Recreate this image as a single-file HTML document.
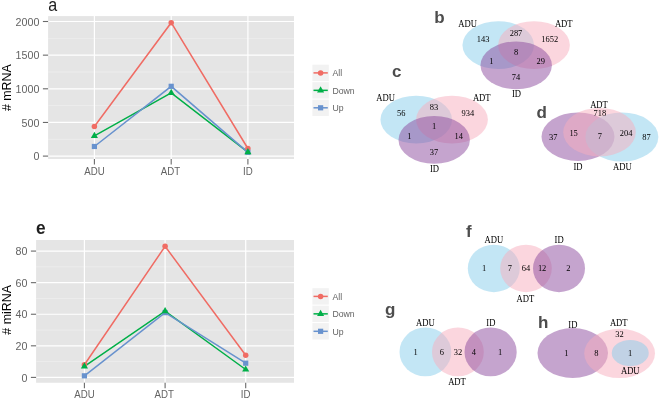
<!DOCTYPE html>
<html><head><meta charset="utf-8"><style>
html,body{margin:0;padding:0;background:#fff;}
svg{display:block;font-family:"Liberation Sans", sans-serif;will-change:transform;}
</style></head><body>
<svg width="660" height="400" viewBox="0 0 660 400">
<rect width="660" height="400" fill="#fff"/>
<rect x="48.1" y="16.1" width="245.9" height="142.9" fill="#e5e5e5"/>
<line x1="48.1" x2="294" y1="139.28" y2="139.28" stroke="#f2f2f2" stroke-width="0.6"/>
<line x1="48.1" x2="294" y1="105.62" y2="105.62" stroke="#f2f2f2" stroke-width="0.6"/>
<line x1="48.1" x2="294" y1="71.97" y2="71.97" stroke="#f2f2f2" stroke-width="0.6"/>
<line x1="48.1" x2="294" y1="38.33" y2="38.33" stroke="#f2f2f2" stroke-width="0.6"/>
<line x1="48.1" x2="294" y1="156.10" y2="156.10" stroke="#ffffff" stroke-width="1.2"/>
<line x1="48.1" x2="294" y1="122.45" y2="122.45" stroke="#ffffff" stroke-width="1.2"/>
<line x1="48.1" x2="294" y1="88.80" y2="88.80" stroke="#ffffff" stroke-width="1.2"/>
<line x1="48.1" x2="294" y1="55.15" y2="55.15" stroke="#ffffff" stroke-width="1.2"/>
<line x1="48.1" x2="294" y1="21.50" y2="21.50" stroke="#ffffff" stroke-width="1.2"/>
<line x1="94.4" x2="94.4" y1="16.1" y2="159" stroke="#ffffff" stroke-width="1.2"/>
<line x1="171.2" x2="171.2" y1="16.1" y2="159" stroke="#ffffff" stroke-width="1.2"/>
<line x1="247.9" x2="247.9" y1="16.1" y2="159" stroke="#ffffff" stroke-width="1.2"/>
<line x1="42.9" x2="48.1" y1="156.10" y2="156.10" stroke="#6a6a6a" stroke-width="1.1"/>
<text x="39.4" y="160.20" font-size="10.7" fill="#636363" text-anchor="end">0</text>
<line x1="42.9" x2="48.1" y1="122.45" y2="122.45" stroke="#6a6a6a" stroke-width="1.1"/>
<text x="39.4" y="126.55" font-size="10.7" fill="#636363" text-anchor="end">500</text>
<line x1="42.9" x2="48.1" y1="88.80" y2="88.80" stroke="#6a6a6a" stroke-width="1.1"/>
<text x="39.4" y="92.90" font-size="10.7" fill="#636363" text-anchor="end">1000</text>
<line x1="42.9" x2="48.1" y1="55.15" y2="55.15" stroke="#6a6a6a" stroke-width="1.1"/>
<text x="39.4" y="59.25" font-size="10.7" fill="#636363" text-anchor="end">1500</text>
<line x1="42.9" x2="48.1" y1="21.50" y2="21.50" stroke="#6a6a6a" stroke-width="1.1"/>
<text x="39.4" y="25.60" font-size="10.7" fill="#636363" text-anchor="end">2000</text>
<line x1="94.4" x2="94.4" y1="159" y2="164.4" stroke="#6a6a6a" stroke-width="1.1"/>
<text transform="translate(94.4,174.6) scale(0.97,1)" font-size="10" fill="#636363" text-anchor="middle">ADU</text>
<line x1="171.2" x2="171.2" y1="159" y2="164.4" stroke="#6a6a6a" stroke-width="1.1"/>
<text transform="translate(170.39999999999998,174.6) scale(0.97,1)" font-size="10" fill="#636363" text-anchor="middle">ADT</text>
<line x1="247.9" x2="247.9" y1="159" y2="164.4" stroke="#6a6a6a" stroke-width="1.1"/>
<text transform="translate(247.9,174.6) scale(0.97,1)" font-size="10" fill="#636363" text-anchor="middle">ID</text>
<text transform="translate(48.2,10.5) scale(0.87,1)" font-size="18.5" font-weight="normal" fill="#1e1e1e">a</text>
<text transform="translate(10.9,87.7) rotate(-90)" font-size="12.4" fill="#000" text-anchor="middle"># mRNA</text>
<polyline points="94.4,126.49 171.2,22.71 247.9,148.50" fill="none" stroke="#F06C64" stroke-width="1.5"/>
<polyline points="94.4,135.91 171.2,92.84 247.9,152.13" fill="none" stroke="#00AF48" stroke-width="1.5"/>
<polyline points="94.4,146.48 171.2,86.31 247.9,152.33" fill="none" stroke="#6892CE" stroke-width="1.5"/>
<circle cx="94.4" cy="126.49" r="2.75" fill="#F06C64"/>
<circle cx="171.2" cy="22.71" r="2.75" fill="#F06C64"/>
<circle cx="247.9" cy="148.50" r="2.75" fill="#F06C64"/>
<rect x="91.80" y="143.88" width="5.2" height="5.2" fill="#6892CE"/>
<rect x="168.60" y="83.71" width="5.2" height="5.2" fill="#6892CE"/>
<rect x="245.30" y="149.73" width="5.2" height="5.2" fill="#6892CE"/>
<polygon points="94.40,131.81 97.95,137.96 90.85,137.96" fill="#00AF48"/>
<polygon points="171.20,88.74 174.75,94.89 167.65,94.89" fill="#00AF48"/>
<polygon points="247.90,148.03 251.45,154.18 244.35,154.18" fill="#00AF48"/>
<rect x="312.4" y="64.70" width="16.4" height="16.4" fill="#f2f2f2"/>
<line x1="313.5" x2="327.8" y1="72.90" y2="72.90" stroke="#F06C64" stroke-width="1.5"/>
<circle cx="320.6" cy="72.90" r="2.75" fill="#F06C64"/>
<text transform="translate(332.4,76.40) scale(0.89,1)" font-size="9.8" fill="#636363">All</text>
<rect x="312.4" y="82.15" width="16.4" height="16.4" fill="#f2f2f2"/>
<line x1="313.5" x2="327.8" y1="90.35" y2="90.35" stroke="#00AF48" stroke-width="1.5"/>
<polygon points="320.60,86.25 324.15,92.40 317.05,92.40" fill="#00AF48"/>
<text transform="translate(332.4,93.85) scale(0.89,1)" font-size="9.8" fill="#636363">Down</text>
<rect x="312.4" y="99.60" width="16.4" height="16.4" fill="#f2f2f2"/>
<line x1="313.5" x2="327.8" y1="107.80" y2="107.80" stroke="#6892CE" stroke-width="1.5"/>
<rect x="318.00" y="105.20" width="5.2" height="5.2" fill="#6892CE"/>
<text transform="translate(332.4,111.30) scale(0.89,1)" font-size="9.8" fill="#636363">Up</text>
<rect x="36.1" y="240" width="257.9" height="142.75" fill="#e5e5e5"/>
<line x1="36.1" x2="294" y1="361.61" y2="361.61" stroke="#f2f2f2" stroke-width="0.6"/>
<line x1="36.1" x2="294" y1="330.03" y2="330.03" stroke="#f2f2f2" stroke-width="0.6"/>
<line x1="36.1" x2="294" y1="298.45" y2="298.45" stroke="#f2f2f2" stroke-width="0.6"/>
<line x1="36.1" x2="294" y1="266.87" y2="266.87" stroke="#f2f2f2" stroke-width="0.6"/>
<line x1="36.1" x2="294" y1="377.40" y2="377.40" stroke="#ffffff" stroke-width="1.2"/>
<line x1="36.1" x2="294" y1="345.82" y2="345.82" stroke="#ffffff" stroke-width="1.2"/>
<line x1="36.1" x2="294" y1="314.24" y2="314.24" stroke="#ffffff" stroke-width="1.2"/>
<line x1="36.1" x2="294" y1="282.66" y2="282.66" stroke="#ffffff" stroke-width="1.2"/>
<line x1="36.1" x2="294" y1="251.08" y2="251.08" stroke="#ffffff" stroke-width="1.2"/>
<line x1="84.4" x2="84.4" y1="240" y2="382.75" stroke="#ffffff" stroke-width="1.2"/>
<line x1="165.1" x2="165.1" y1="240" y2="382.75" stroke="#ffffff" stroke-width="1.2"/>
<line x1="245.7" x2="245.7" y1="240" y2="382.75" stroke="#ffffff" stroke-width="1.2"/>
<line x1="30.900000000000002" x2="36.1" y1="377.40" y2="377.40" stroke="#6a6a6a" stroke-width="1.1"/>
<text x="27.4" y="381.50" font-size="10.7" fill="#636363" text-anchor="end">0</text>
<line x1="30.900000000000002" x2="36.1" y1="345.82" y2="345.82" stroke="#6a6a6a" stroke-width="1.1"/>
<text x="27.4" y="349.92" font-size="10.7" fill="#636363" text-anchor="end">20</text>
<line x1="30.900000000000002" x2="36.1" y1="314.24" y2="314.24" stroke="#6a6a6a" stroke-width="1.1"/>
<text x="27.4" y="318.34" font-size="10.7" fill="#636363" text-anchor="end">40</text>
<line x1="30.900000000000002" x2="36.1" y1="282.66" y2="282.66" stroke="#6a6a6a" stroke-width="1.1"/>
<text x="27.4" y="286.76" font-size="10.7" fill="#636363" text-anchor="end">60</text>
<line x1="30.900000000000002" x2="36.1" y1="251.08" y2="251.08" stroke="#6a6a6a" stroke-width="1.1"/>
<text x="27.4" y="255.18" font-size="10.7" fill="#636363" text-anchor="end">80</text>
<line x1="84.4" x2="84.4" y1="382.75" y2="388.15" stroke="#6a6a6a" stroke-width="1.1"/>
<text transform="translate(84.4,398) scale(0.97,1)" font-size="10" fill="#636363" text-anchor="middle">ADU</text>
<line x1="165.1" x2="165.1" y1="382.75" y2="388.15" stroke="#6a6a6a" stroke-width="1.1"/>
<text transform="translate(164.29999999999998,398) scale(0.97,1)" font-size="10" fill="#636363" text-anchor="middle">ADT</text>
<line x1="245.7" x2="245.7" y1="382.75" y2="388.15" stroke="#6a6a6a" stroke-width="1.1"/>
<text transform="translate(245.7,398) scale(0.97,1)" font-size="10" fill="#636363" text-anchor="middle">ID</text>
<text transform="translate(36.0,233.8) scale(0.95,1)" font-size="18.2" font-weight="bold" fill="#1e1e1e">e</text>
<text transform="translate(10.9,309.85) rotate(-90)" font-size="12.4" fill="#000" text-anchor="middle"># miRNA</text>
<polyline points="84.4,364.77 165.1,246.34 245.7,355.29" fill="none" stroke="#F06C64" stroke-width="1.5"/>
<polyline points="84.4,366.35 165.1,311.08 245.7,369.50" fill="none" stroke="#00AF48" stroke-width="1.5"/>
<polyline points="84.4,375.82 165.1,312.66 245.7,363.19" fill="none" stroke="#6892CE" stroke-width="1.5"/>
<circle cx="84.4" cy="364.77" r="2.75" fill="#F06C64"/>
<circle cx="165.1" cy="246.34" r="2.75" fill="#F06C64"/>
<circle cx="245.7" cy="355.29" r="2.75" fill="#F06C64"/>
<rect x="81.80" y="373.22" width="5.2" height="5.2" fill="#6892CE"/>
<rect x="162.50" y="310.06" width="5.2" height="5.2" fill="#6892CE"/>
<rect x="243.10" y="360.59" width="5.2" height="5.2" fill="#6892CE"/>
<polygon points="84.40,362.25 87.95,368.40 80.85,368.40" fill="#00AF48"/>
<polygon points="165.10,306.98 168.65,313.13 161.55,313.13" fill="#00AF48"/>
<polygon points="245.70,365.40 249.25,371.56 242.15,371.56" fill="#00AF48"/>
<rect x="312.4" y="288.20" width="16.4" height="16.4" fill="#f2f2f2"/>
<line x1="313.5" x2="327.8" y1="296.40" y2="296.40" stroke="#F06C64" stroke-width="1.5"/>
<circle cx="320.6" cy="296.40" r="2.75" fill="#F06C64"/>
<text transform="translate(332.4,299.90) scale(0.89,1)" font-size="9.8" fill="#636363">All</text>
<rect x="312.4" y="305.65" width="16.4" height="16.4" fill="#f2f2f2"/>
<line x1="313.5" x2="327.8" y1="313.85" y2="313.85" stroke="#00AF48" stroke-width="1.5"/>
<polygon points="320.60,309.75 324.15,315.90 317.05,315.90" fill="#00AF48"/>
<text transform="translate(332.4,317.35) scale(0.89,1)" font-size="9.8" fill="#636363">Down</text>
<rect x="312.4" y="323.10" width="16.4" height="16.4" fill="#f2f2f2"/>
<line x1="313.5" x2="327.8" y1="331.30" y2="331.30" stroke="#6892CE" stroke-width="1.5"/>
<rect x="318.00" y="328.70" width="5.2" height="5.2" fill="#6892CE"/>
<text transform="translate(332.4,334.80) scale(0.89,1)" font-size="9.8" fill="#636363">Up</text>
<ellipse cx="498.25" cy="45.1" rx="35.8" ry="23.9" fill="rgba(135,206,235,0.5)"/>
<ellipse cx="534" cy="45.1" rx="35.9" ry="23.9" fill="rgba(247,173,189,0.5)"/>
<ellipse cx="516.2" cy="65.35" rx="35.7" ry="23.85" fill="rgba(139,73,157,0.5)"/>
<text transform="translate(467.6,26.9) scale(0.9,1)" font-family='"Liberation Serif", serif' font-size="9.6" fill="#000000" text-anchor="middle">ADU</text>
<text transform="translate(563.75,26.9) scale(0.9,1)" font-family='"Liberation Serif", serif' font-size="9.6" fill="#000000" text-anchor="middle">ADT</text>
<text transform="translate(516.5,97.3) scale(0.9,1)" font-family='"Liberation Serif", serif' font-size="9.6" fill="#000000" text-anchor="middle">ID</text>
<text transform="translate(483.2,41.84) scale(0.94,1)" font-family='"Liberation Serif", serif' font-size="9.0" fill="#000000" text-anchor="middle">143</text>
<text transform="translate(516,35.54) scale(0.94,1)" font-family='"Liberation Serif", serif' font-size="9.0" fill="#000000" text-anchor="middle">287</text>
<text transform="translate(549.8,41.84) scale(0.94,1)" font-family='"Liberation Serif", serif' font-size="9.0" fill="#000000" text-anchor="middle">1652</text>
<text transform="translate(516,54.64) scale(0.94,1)" font-family='"Liberation Serif", serif' font-size="9.0" fill="#000000" text-anchor="middle">8</text>
<text transform="translate(491.3,64.34) scale(0.94,1)" font-family='"Liberation Serif", serif' font-size="9.0" fill="#000000" text-anchor="middle">1</text>
<text transform="translate(540.8,64.34) scale(0.94,1)" font-family='"Liberation Serif", serif' font-size="9.0" fill="#000000" text-anchor="middle">29</text>
<text transform="translate(516,80.04) scale(0.94,1)" font-family='"Liberation Serif", serif' font-size="9.0" fill="#000000" text-anchor="middle">74</text>
<text x="434.2" y="23.0" font-size="17" font-weight="bold" fill="#4d4d4d">b</text>
<ellipse cx="416.25" cy="119.65" rx="35.8" ry="23.9" fill="rgba(135,206,235,0.5)"/>
<ellipse cx="452" cy="119.65" rx="35.9" ry="23.9" fill="rgba(247,173,189,0.5)"/>
<ellipse cx="434.20000000000005" cy="139.89999999999998" rx="35.7" ry="23.85" fill="rgba(139,73,157,0.5)"/>
<text transform="translate(385.6,101.44999999999999) scale(0.9,1)" font-family='"Liberation Serif", serif' font-size="9.6" fill="#000000" text-anchor="middle">ADU</text>
<text transform="translate(481.75,101.44999999999999) scale(0.9,1)" font-family='"Liberation Serif", serif' font-size="9.6" fill="#000000" text-anchor="middle">ADT</text>
<text transform="translate(434.5,171.85) scale(0.9,1)" font-family='"Liberation Serif", serif' font-size="9.6" fill="#000000" text-anchor="middle">ID</text>
<text transform="translate(401.2,116.39) scale(0.94,1)" font-family='"Liberation Serif", serif' font-size="9.0" fill="#000000" text-anchor="middle">56</text>
<text transform="translate(434,110.09) scale(0.94,1)" font-family='"Liberation Serif", serif' font-size="9.0" fill="#000000" text-anchor="middle">83</text>
<text transform="translate(467.79999999999995,116.39) scale(0.94,1)" font-family='"Liberation Serif", serif' font-size="9.0" fill="#000000" text-anchor="middle">934</text>
<text transform="translate(434,129.19) scale(0.94,1)" font-family='"Liberation Serif", serif' font-size="9.0" fill="#000000" text-anchor="middle">1</text>
<text transform="translate(409.3,138.89) scale(0.94,1)" font-family='"Liberation Serif", serif' font-size="9.0" fill="#000000" text-anchor="middle">1</text>
<text transform="translate(458.79999999999995,138.89) scale(0.94,1)" font-family='"Liberation Serif", serif' font-size="9.0" fill="#000000" text-anchor="middle">14</text>
<text transform="translate(434,154.59) scale(0.94,1)" font-family='"Liberation Serif", serif' font-size="9.0" fill="#000000" text-anchor="middle">37</text>
<text x="392.0" y="76.8" font-size="17" font-weight="bold" fill="#4d4d4d">c</text>
<ellipse cx="578" cy="136.7" rx="36.5" ry="24.2" fill="rgba(139,73,157,0.5)"/>
<ellipse cx="621.85" cy="137" rx="36.5" ry="24.5" fill="rgba(135,206,235,0.5)"/>
<ellipse cx="599.5" cy="132.2" rx="36.3" ry="24.2" fill="rgba(247,173,189,0.5)"/>
<text transform="translate(599,107.6) scale(0.9,1)" font-family='"Liberation Serif", serif' font-size="9.6" fill="#000000" text-anchor="middle">ADT</text>
<text transform="translate(578,169.5) scale(0.9,1)" font-family='"Liberation Serif", serif' font-size="9.6" fill="#000000" text-anchor="middle">ID</text>
<text transform="translate(622.4,169.5) scale(0.9,1)" font-family='"Liberation Serif", serif' font-size="9.6" fill="#000000" text-anchor="middle">ADU</text>
<text transform="translate(599.9,116.04) scale(0.94,1)" font-family='"Liberation Serif", serif' font-size="9.0" fill="#000000" text-anchor="middle">718</text>
<text transform="translate(553.3,140.34) scale(0.94,1)" font-family='"Liberation Serif", serif' font-size="9.0" fill="#000000" text-anchor="middle">37</text>
<text transform="translate(573.6,136.24) scale(0.94,1)" font-family='"Liberation Serif", serif' font-size="9.0" fill="#000000" text-anchor="middle">15</text>
<text transform="translate(599.9,139.14) scale(0.94,1)" font-family='"Liberation Serif", serif' font-size="9.0" fill="#000000" text-anchor="middle">7</text>
<text transform="translate(626.2,136.24) scale(0.94,1)" font-family='"Liberation Serif", serif' font-size="9.0" fill="#000000" text-anchor="middle">204</text>
<text transform="translate(646.5,140.34) scale(0.94,1)" font-family='"Liberation Serif", serif' font-size="9.0" fill="#000000" text-anchor="middle">87</text>
<text x="536.6" y="117.8" font-size="17" font-weight="bold" fill="#4d4d4d">d</text>
<ellipse cx="493.8" cy="268.4" rx="26" ry="23.75" fill="rgba(135,206,235,0.5)"/>
<ellipse cx="526" cy="268.4" rx="25.8" ry="23.75" fill="rgba(247,173,189,0.5)"/>
<ellipse cx="559" cy="268.4" rx="26" ry="23.75" fill="rgba(139,73,157,0.5)"/>
<text transform="translate(493.85,242.9) scale(0.9,1)" font-family='"Liberation Serif", serif' font-size="9.6" fill="#000000" text-anchor="middle">ADU</text>
<text transform="translate(559.1,242.9) scale(0.9,1)" font-family='"Liberation Serif", serif' font-size="9.6" fill="#000000" text-anchor="middle">ID</text>
<text transform="translate(525.4,301.8) scale(0.9,1)" font-family='"Liberation Serif", serif' font-size="9.6" fill="#000000" text-anchor="middle">ADT</text>
<text transform="translate(484,271.34) scale(0.94,1)" font-family='"Liberation Serif", serif' font-size="9.0" fill="#000000" text-anchor="middle">1</text>
<text transform="translate(509.9,271.34) scale(0.94,1)" font-family='"Liberation Serif", serif' font-size="9.0" fill="#000000" text-anchor="middle">7</text>
<text transform="translate(525.9,271.34) scale(0.94,1)" font-family='"Liberation Serif", serif' font-size="9.0" fill="#000000" text-anchor="middle">64</text>
<text transform="translate(542.1,271.34) scale(0.94,1)" font-family='"Liberation Serif", serif' font-size="9.0" fill="#000000" text-anchor="middle">12</text>
<text transform="translate(568.3,271.34) scale(0.94,1)" font-family='"Liberation Serif", serif' font-size="9.0" fill="#000000" text-anchor="middle">2</text>
<text x="466.0" y="236.6" font-size="17" font-weight="bold" fill="#4d4d4d">f</text>
<ellipse cx="425.4" cy="351.9" rx="25.9" ry="24.4" fill="rgba(135,206,235,0.5)"/>
<ellipse cx="457.9" cy="351.9" rx="25.9" ry="24.4" fill="rgba(247,173,189,0.5)"/>
<ellipse cx="490.6" cy="351.9" rx="26.1" ry="24.4" fill="rgba(139,73,157,0.5)"/>
<text transform="translate(425.4,325.75) scale(0.9,1)" font-family='"Liberation Serif", serif' font-size="9.6" fill="#000000" text-anchor="middle">ADU</text>
<text transform="translate(490.9,325.75) scale(0.9,1)" font-family='"Liberation Serif", serif' font-size="9.6" fill="#000000" text-anchor="middle">ID</text>
<text transform="translate(457,385) scale(0.9,1)" font-family='"Liberation Serif", serif' font-size="9.6" fill="#000000" text-anchor="middle">ADT</text>
<text transform="translate(415.5,355.04) scale(0.94,1)" font-family='"Liberation Serif", serif' font-size="9.0" fill="#000000" text-anchor="middle">1</text>
<text transform="translate(441.75,355.04) scale(0.94,1)" font-family='"Liberation Serif", serif' font-size="9.0" fill="#000000" text-anchor="middle">6</text>
<text transform="translate(458,355.04) scale(0.94,1)" font-family='"Liberation Serif", serif' font-size="9.0" fill="#000000" text-anchor="middle">32</text>
<text transform="translate(473.75,355.04) scale(0.94,1)" font-family='"Liberation Serif", serif' font-size="9.0" fill="#000000" text-anchor="middle">4</text>
<text transform="translate(500,355.04) scale(0.94,1)" font-family='"Liberation Serif", serif' font-size="9.0" fill="#000000" text-anchor="middle">1</text>
<text x="385.0" y="314.5" font-size="17" font-weight="bold" fill="#4d4d4d">g</text>
<ellipse cx="572.75" cy="353" rx="35.25" ry="25" fill="rgba(139,73,157,0.5)"/>
<ellipse cx="619.6" cy="353.4" rx="35.4" ry="24.6" fill="rgba(247,173,189,0.5)"/>
<ellipse cx="630.25" cy="353.1" rx="18.5" ry="13.1" fill="rgba(135,206,235,0.5)"/>
<text transform="translate(572.9,327.5) scale(0.9,1)" font-family='"Liberation Serif", serif' font-size="9.6" fill="#000000" text-anchor="middle">ID</text>
<text transform="translate(618.75,326.25) scale(0.9,1)" font-family='"Liberation Serif", serif' font-size="9.6" fill="#000000" text-anchor="middle">ADT</text>
<text transform="translate(630.25,373.75) scale(0.9,1)" font-family='"Liberation Serif", serif' font-size="9.6" fill="#000000" text-anchor="middle">ADU</text>
<text transform="translate(619.5,337.29) scale(0.94,1)" font-family='"Liberation Serif", serif' font-size="9.0" fill="#000000" text-anchor="middle">32</text>
<text transform="translate(566.25,356.04) scale(0.94,1)" font-family='"Liberation Serif", serif' font-size="9.0" fill="#000000" text-anchor="middle">1</text>
<text transform="translate(596.25,356.04) scale(0.94,1)" font-family='"Liberation Serif", serif' font-size="9.0" fill="#000000" text-anchor="middle">8</text>
<text transform="translate(630,356.04) scale(0.94,1)" font-family='"Liberation Serif", serif' font-size="9.0" fill="#000000" text-anchor="middle">1</text>
<text x="537.9" y="328.3" font-size="17" font-weight="bold" fill="#4d4d4d">h</text>
</svg>
</body></html>
